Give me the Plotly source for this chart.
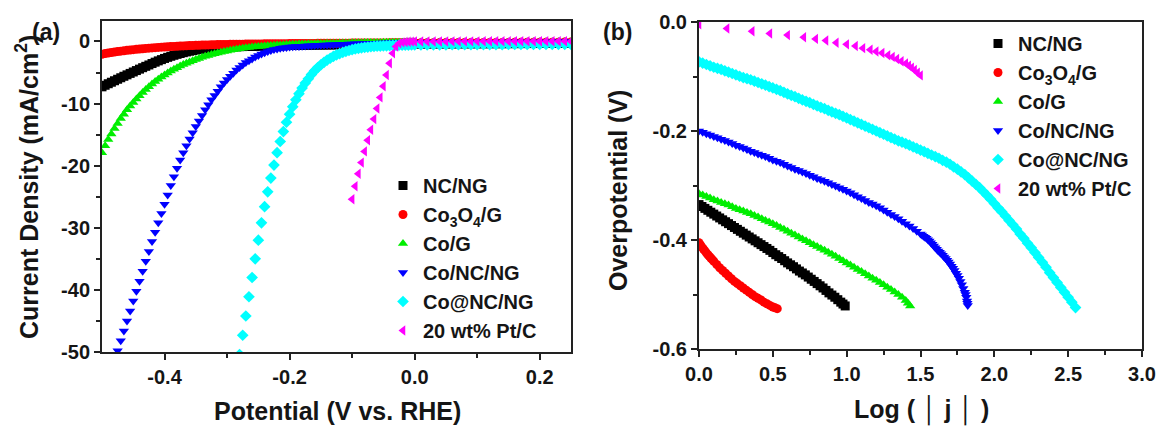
import plotly.graph_objects as go

# ---------------- Panel (a): LSV curves ----------------
# Potential grid (V vs. RHE)
E_A = [0.25, 0.24, 0.23, 0.22, 0.21, 0.20, 0.19, 0.18, 0.17, 0.16, 0.15, 0.14, 0.13,
       0.12, 0.11, 0.10, 0.09, 0.08, 0.07, 0.06, 0.05, 0.04, 0.03, 0.02, 0.01, 0.00,
       -0.005, -0.010, -0.015, -0.020, -0.025, -0.030, -0.035, -0.040, -0.045, -0.050,
       -0.055, -0.060, -0.065, -0.070, -0.075, -0.080, -0.085, -0.090, -0.095, -0.100,
       -0.105, -0.110, -0.115, -0.120, -0.125, -0.130, -0.135, -0.140, -0.145, -0.150,
       -0.155, -0.160, -0.165, -0.170, -0.175, -0.180, -0.185, -0.190, -0.195, -0.200,
       -0.205, -0.210, -0.215, -0.220, -0.225, -0.230, -0.235, -0.240, -0.245, -0.250,
       -0.255, -0.260, -0.265, -0.270, -0.275, -0.280, -0.285, -0.290, -0.295, -0.300,
       -0.305, -0.310, -0.315, -0.320, -0.325, -0.330, -0.335, -0.340, -0.345, -0.350,
       -0.355, -0.360, -0.365, -0.370, -0.375, -0.380, -0.385, -0.390, -0.395, -0.400,
       -0.405, -0.410, -0.415, -0.420, -0.425, -0.430, -0.435, -0.440, -0.445, -0.450,
       -0.455, -0.460, -0.465, -0.470, -0.475, -0.480, -0.485, -0.490, -0.495, -0.500]

# Current density (mA/cm2), aligned with E_A from the start
J_NCNG = [-0.30, -0.30, -0.31, -0.31, -0.32, -0.32, -0.33, -0.33, -0.34, -0.34, -0.35, -0.35, -0.36,
          -0.36, -0.37, -0.37, -0.37, -0.38, -0.38, -0.38, -0.39, -0.39, -0.39, -0.40, -0.40, -0.40,
          -0.40, -0.41, -0.41, -0.42, -0.42, -0.43, -0.43, -0.44, -0.44, -0.45,
          -0.45, -0.46, -0.46, -0.47, -0.47, -0.48, -0.48, -0.49, -0.49, -0.50,
          -0.51, -0.51, -0.52, -0.52, -0.53, -0.54, -0.54, -0.55, -0.56, -0.56,
          -0.57, -0.58, -0.59, -0.59, -0.60, -0.61, -0.62, -0.63, -0.64, -0.65,
          -0.66, -0.67, -0.68, -0.69, -0.70, -0.71, -0.72, -0.73, -0.74, -0.75,
          -0.77, -0.78, -0.79, -0.80, -0.82, -0.83, -0.85, -0.87, -0.89, -0.91,
          -0.94, -0.97, -1.00, -1.04, -1.08, -1.12, -1.17, -1.23, -1.30, -1.38,
          -1.47, -1.57, -1.68, -1.80, -1.93, -2.07, -2.22, -2.38, -2.55, -2.73,
          -2.92, -3.12, -3.33, -3.55, -3.78, -4.00, -4.22, -4.45, -4.68, -4.91,
          -5.14, -5.37, -5.60, -5.84, -6.08, -6.32, -6.56, -6.80, -7.05, -7.30]

J_CO3O4 = [-0.10, -0.10, -0.11, -0.11, -0.12, -0.12, -0.13, -0.13, -0.14, -0.14, -0.15, -0.15, -0.15,
           -0.16, -0.16, -0.16, -0.17, -0.17, -0.17, -0.18, -0.18, -0.18, -0.19, -0.19, -0.19, -0.20,
           -0.20, -0.20, -0.21, -0.21, -0.21, -0.22, -0.22, -0.22, -0.23, -0.23,
           -0.23, -0.24, -0.24, -0.24, -0.25, -0.25, -0.25, -0.26, -0.26, -0.26,
           -0.27, -0.27, -0.27, -0.28, -0.28, -0.28, -0.29, -0.29, -0.29, -0.30,
           -0.30, -0.31, -0.31, -0.31, -0.32, -0.32, -0.33, -0.33, -0.34, -0.34,
           -0.35, -0.35, -0.36, -0.36, -0.37, -0.37, -0.38, -0.38, -0.39, -0.39,
           -0.40, -0.41, -0.41, -0.42, -0.43, -0.43, -0.44, -0.45, -0.46, -0.47,
           -0.48, -0.49, -0.50, -0.52, -0.53, -0.55, -0.56, -0.58, -0.60, -0.62,
           -0.64, -0.66, -0.68, -0.71, -0.73, -0.76, -0.79, -0.82, -0.85, -0.88,
           -0.91, -0.95, -0.99, -1.03, -1.07, -1.11, -1.16, -1.21, -1.26, -1.31,
           -1.37, -1.43, -1.49, -1.56, -1.63, -1.70, -1.78, -1.86, -1.95, -2.05]

J_COG = [-0.05, -0.05, -0.05, -0.06, -0.06, -0.06, -0.06, -0.07, -0.07, -0.07, -0.07, -0.07, -0.08,
         -0.08, -0.08, -0.08, -0.08, -0.09, -0.09, -0.09, -0.09, -0.09, -0.10, -0.10, -0.10, -0.10,
         -0.10, -0.10, -0.11, -0.11, -0.12, -0.12, -0.13, -0.13, -0.14, -0.14,
         -0.15, -0.16, -0.16, -0.17, -0.18, -0.18, -0.19, -0.20, -0.21, -0.22,
         -0.23, -0.24, -0.25, -0.26, -0.27, -0.28, -0.29, -0.30, -0.31, -0.32,
         -0.34, -0.35, -0.36, -0.38, -0.39, -0.41, -0.42, -0.44, -0.46, -0.48,
         -0.50, -0.53, -0.55, -0.58, -0.61, -0.64, -0.68, -0.72, -0.76, -0.80,
         -0.85, -0.90, -0.96, -1.02, -1.09, -1.16, -1.24, -1.33, -1.42, -1.52,
         -1.62, -1.73, -1.85, -1.97, -2.10, -2.24, -2.39, -2.55, -2.72, -2.90,
         -3.09, -3.29, -3.50, -3.72, -3.96, -4.21, -4.48, -4.76, -5.06, -5.38,
         -5.72, -6.08, -6.46, -6.86, -7.29, -7.74, -8.22, -8.72, -9.25, -9.81,
         -10.4, -11.0, -11.7, -12.4, -13.2, -14.0, -14.9, -15.8, -16.8, -17.9]

J_CONCNG = [-0.05, -0.05, -0.06, -0.06, -0.07, -0.07, -0.08, -0.08, -0.09, -0.09, -0.10, -0.10, -0.11,
            -0.11, -0.11, -0.12, -0.12, -0.12, -0.13, -0.13, -0.13, -0.14, -0.14, -0.14, -0.15, -0.15,
            -0.16, -0.17, -0.17, -0.18, -0.19, -0.20, -0.21, -0.22, -0.23, -0.24,
            -0.26, -0.27, -0.29, -0.30, -0.31, -0.33, -0.35, -0.37, -0.38, -0.40,
            -0.42, -0.44, -0.46, -0.47, -0.49, -0.51, -0.53, -0.55, -0.58, -0.60,
            -0.62, -0.65, -0.68, -0.70, -0.73, -0.76, -0.79, -0.82, -0.86, -0.90,
            -0.95, -1.00, -1.10, -1.20, -1.30, -1.45, -1.60, -1.80, -2.00, -2.25,
            -2.50, -2.80, -3.10, -3.40, -3.80, -4.20, -4.60, -5.10, -5.60, -6.10,
            -6.70, -7.30, -8.00, -8.70, -9.40, -10.2, -11.0, -11.9, -12.8, -13.7,
            -14.7, -15.7, -16.8, -17.9, -19.1, -20.4, -21.8, -23.2, -24.7, -26.2,
            -27.7, -29.2, -30.7, -32.2, -33.8, -35.4, -37.0, -38.6, -40.2, -41.8,
            -43.4, -45.0, -46.6, -48.2, -49.8, -51.4]

J_COATNCNG = [-0.45, -0.45, -0.46, -0.46, -0.46, -0.47, -0.47, -0.47, -0.48, -0.48, -0.48, -0.49, -0.49,
              -0.50, -0.50, -0.50, -0.51, -0.51, -0.52, -0.52, -0.53, -0.53, -0.54, -0.54, -0.55, -0.55,
              -0.56, -0.57, -0.58, -0.59, -0.60, -0.62, -0.64, -0.66, -0.69, -0.72,
              -0.74, -0.76, -0.80, -0.85, -0.90, -0.95, -1.02, -1.10, -1.20, -1.32,
              -1.45, -1.60, -1.76, -1.95, -2.15, -2.40, -2.70, -3.00, -3.35, -3.75,
              -4.20, -4.70, -5.30, -6.00, -6.70, -7.50, -8.40, -9.40, -10.5, -11.7,
              -13.0, -14.5, -16.1, -17.9, -19.9, -22.0, -24.2, -26.6, -29.2, -32.0,
              -35.0, -38.0, -41.1, -44.2, -47.3, -50.4, -53.5]

J_PTC = [0.05, 0.05, 0.05, 0.05, 0.05, 0.04, 0.04, 0.04, 0.04, 0.04, 0.03, 0.03, 0.03,
         0.03, 0.03, 0.02, 0.02, 0.02, 0.02, 0.02, 0.01, 0.01, 0.01, 0.00, 0.00, 0.00,
         -0.02, -0.04, -0.07, -0.14, -0.30, -0.80, -1.9, -3.5, -5.4, -7.2,
         -9.0, -10.8, -12.5, -14.2, -15.9, -17.7, -19.5, -21.3, -23.3, -25.4]

# ---------------- Panel (b): Tafel plots ----------------
LOGJ_NCNG = [0.00, 0.02, 0.04, 0.06, 0.08, 0.10, 0.12, 0.14, 0.16, 0.18, 0.20, 0.22, 0.24,
             0.26, 0.28, 0.30, 0.32, 0.34, 0.36, 0.38, 0.40, 0.42, 0.44, 0.46, 0.48, 0.50,
             0.52, 0.54, 0.56, 0.58, 0.60, 0.62, 0.64, 0.66, 0.68, 0.70, 0.72, 0.74, 0.76,
             0.78, 0.80, 0.82, 0.84, 0.86, 0.88, 0.90, 0.92, 0.94, 0.96, 0.975, 0.99]
ETA_NCNG = [-0.335, -0.3385, -0.342, -0.3455, -0.349, -0.3525, -0.356, -0.3595, -0.363, -0.3665,
            -0.370, -0.3735, -0.377, -0.3805, -0.384, -0.3875, -0.391, -0.3945, -0.398, -0.4015,
            -0.405, -0.4085, -0.412, -0.4155, -0.419, -0.423, -0.427, -0.4305, -0.434, -0.438,
            -0.442, -0.4455, -0.449, -0.453, -0.457, -0.4605, -0.464, -0.468, -0.472, -0.476,
            -0.480, -0.484, -0.488, -0.4925, -0.497, -0.501, -0.505, -0.5095, -0.514, -0.5175,
            -0.521]

LOGJ_CO3O4 = [0.00, 0.01, 0.02, 0.03, 0.04, 0.05, 0.06, 0.07, 0.08, 0.09, 0.10, 0.12, 0.14,
              0.16, 0.18, 0.20, 0.22, 0.24, 0.26, 0.28, 0.30, 0.32, 0.34, 0.36, 0.38, 0.40,
              0.42, 0.44, 0.46, 0.48, 0.50, 0.515, 0.53]
ETA_CO3O4 = [-0.405, -0.409, -0.413, -0.4165, -0.420, -0.4235, -0.427, -0.430, -0.433, -0.436,
             -0.439, -0.445, -0.451, -0.456, -0.461, -0.466, -0.471, -0.476, -0.480, -0.484,
             -0.488, -0.492, -0.496, -0.500, -0.504, -0.507, -0.510, -0.514, -0.517, -0.520,
             -0.523, -0.5245, -0.526]

LOGJ_COG = [0.000, 0.025, 0.050, 0.075, 0.100, 0.125, 0.150, 0.175, 0.200, 0.225, 0.250, 0.275,
            0.300, 0.325, 0.350, 0.375, 0.400, 0.425, 0.450, 0.475, 0.500, 0.525, 0.550, 0.575,
            0.600, 0.625, 0.650, 0.675, 0.700, 0.725, 0.750, 0.775, 0.800, 0.825, 0.850, 0.875,
            0.900, 0.925, 0.950, 0.975, 1.000, 1.025, 1.050, 1.075, 1.100, 1.125, 1.150, 1.175,
            1.200, 1.225, 1.250, 1.275, 1.300, 1.325, 1.350, 1.375, 1.400, 1.415, 1.430]
ETA_COG = [-0.315, -0.3175, -0.320, -0.323, -0.326, -0.3285, -0.331, -0.3335, -0.336, -0.339,
           -0.342, -0.3445, -0.347, -0.3495, -0.352, -0.355, -0.358, -0.361, -0.364, -0.367,
           -0.370, -0.3735, -0.377, -0.3805, -0.384, -0.3875, -0.391, -0.3945, -0.398, -0.4015,
           -0.405, -0.4085, -0.412, -0.4155, -0.419, -0.4225, -0.426, -0.430, -0.434, -0.438,
           -0.442, -0.446, -0.450, -0.454, -0.458, -0.462, -0.466, -0.470, -0.474, -0.478,
           -0.482, -0.4865, -0.491, -0.4955, -0.500, -0.505, -0.511, -0.516, -0.521]

LOGJ_CONCNG = [0.000, 0.025, 0.050, 0.075, 0.100, 0.125, 0.150, 0.175, 0.200, 0.225, 0.250, 0.275,
               0.300, 0.325, 0.350, 0.375, 0.400, 0.425, 0.450, 0.475, 0.500, 0.525, 0.550, 0.575,
               0.600, 0.625, 0.650, 0.675, 0.700, 0.725, 0.750, 0.775, 0.800, 0.825, 0.850, 0.875,
               0.900, 0.925, 0.950, 0.975, 1.000, 1.025, 1.050, 1.075, 1.100, 1.125, 1.150, 1.175,
               1.200, 1.225, 1.250, 1.275, 1.300, 1.325, 1.350, 1.375, 1.400, 1.425, 1.450, 1.475,
               1.50, 1.51, 1.52, 1.53, 1.54, 1.55, 1.56, 1.57, 1.58, 1.59, 1.60, 1.61, 1.62, 1.63,
               1.64, 1.65, 1.66, 1.67, 1.68, 1.69, 1.70, 1.71, 1.72, 1.73, 1.74, 1.75, 1.76, 1.77,
               1.78, 1.79, 1.80, 1.805, 1.81, 1.815, 1.8175, 1.82]
ETA_CONCNG = [-0.200, -0.2025, -0.205, -0.2075, -0.210, -0.2125, -0.215, -0.2175, -0.220, -0.223,
              -0.226, -0.2285, -0.231, -0.234, -0.237, -0.2395, -0.242, -0.2445, -0.247, -0.250,
              -0.253, -0.2555, -0.258, -0.261, -0.264, -0.267, -0.270, -0.2725, -0.275, -0.278,
              -0.281, -0.284, -0.287, -0.2895, -0.292, -0.295, -0.298, -0.301, -0.304, -0.307,
              -0.310, -0.3135, -0.317, -0.3205, -0.324, -0.3275, -0.331, -0.334, -0.337, -0.341,
              -0.345, -0.349, -0.353, -0.357, -0.361, -0.3655, -0.370, -0.3745, -0.379, -0.384,
              -0.389, -0.391, -0.393, -0.395, -0.397, -0.3995, -0.402, -0.405, -0.408, -0.411,
              -0.414, -0.417, -0.420, -0.4225, -0.425, -0.428, -0.431, -0.434, -0.437, -0.4405,
              -0.444, -0.448, -0.452, -0.456, -0.461, -0.465, -0.470, -0.476, -0.482, -0.489,
              -0.496, -0.500, -0.505, -0.512, -0.516, -0.520]

LOGJ_COATNCNG = [0.000, 0.025, 0.050, 0.075, 0.100, 0.125, 0.150, 0.175, 0.200, 0.225, 0.250,
                 0.275, 0.300, 0.325, 0.350, 0.375, 0.400, 0.425, 0.450, 0.475, 0.500, 0.525,
                 0.550, 0.575, 0.600, 0.625, 0.650, 0.675, 0.700, 0.725, 0.750, 0.775, 0.800,
                 0.825, 0.850, 0.875, 0.900, 0.925, 0.950, 0.975, 1.000, 1.025, 1.050, 1.075,
                 1.100, 1.125, 1.150, 1.175, 1.200, 1.225, 1.250, 1.275, 1.300, 1.325, 1.350,
                 1.375, 1.400, 1.425, 1.450, 1.475, 1.50, 1.525, 1.55, 1.575, 1.60, 1.625, 1.65,
                 1.675, 1.70, 1.725, 1.75, 1.775, 1.80, 1.825, 1.85, 1.875, 1.90, 1.925, 1.95,
                 1.975, 2.00, 2.025, 2.05, 2.075, 2.10, 2.125, 2.15, 2.175, 2.20, 2.225, 2.25,
                 2.275, 2.30, 2.325, 2.35, 2.375, 2.40, 2.425, 2.45, 2.475, 2.50, 2.525, 2.55]
ETA_COATNCNG = [-0.073, -0.0755, -0.078, -0.0805, -0.083, -0.085, -0.087, -0.0895, -0.092, -0.0945,
                -0.097, -0.0995, -0.102, -0.104, -0.106, -0.1085, -0.111, -0.1135, -0.116, -0.1185,
                -0.121, -0.1235, -0.126, -0.129, -0.132, -0.1345, -0.137, -0.140, -0.143, -0.1455,
                -0.148, -0.151, -0.154, -0.1565, -0.159, -0.162, -0.165, -0.1675, -0.170, -0.173,
                -0.176, -0.179, -0.182, -0.185, -0.188, -0.191, -0.194, -0.197, -0.200, -0.203,
                -0.206, -0.209, -0.212, -0.215, -0.218, -0.2205, -0.223, -0.226, -0.229, -0.232,
                -0.235, -0.238, -0.241, -0.244, -0.247, -0.250, -0.254, -0.257, -0.261, -0.266,
                -0.270, -0.275, -0.280, -0.286, -0.292, -0.298, -0.304, -0.311, -0.318, -0.325,
                -0.333, -0.341, -0.348, -0.356, -0.364, -0.372, -0.380, -0.389, -0.397, -0.406,
                -0.414, -0.423, -0.432, -0.441, -0.450, -0.460, -0.469, -0.478, -0.487, -0.496,
                -0.505, -0.514, -0.524]

LOGJ_PTC = [0.00, 0.19, 0.36, 0.48, 0.60, 0.71, 0.79, 0.86, 0.93, 1.00, 1.06, 1.11, 1.16,
            1.20, 1.24, 1.28, 1.31, 1.34, 1.37, 1.40, 1.42, 1.44, 1.46, 1.48, 1.50]
ETA_PTC = [-0.004, -0.012, -0.017, -0.021, -0.024, -0.028, -0.031, -0.034, -0.038, -0.041,
           -0.044, -0.048, -0.051, -0.054, -0.057, -0.061, -0.064, -0.068, -0.072, -0.076,
           -0.080, -0.084, -0.088, -0.093, -0.098]

NAMES = ["NC/NG", "Co<sub>3</sub>O<sub>4</sub>/G", "Co/G", "Co/NC/NG", "Co@NC/NG", "20 wt% Pt/C"]
COLORS = ["#000000", "#ff0000", "#00ee00", "#0000ff", "#00ffff", "#ff00ff"]
SYMBOLS = ["square", "circle", "triangle-up", "triangle-down", "diamond", "triangle-left"]

A_J = [J_NCNG, J_CO3O4, J_COG, J_CONCNG, J_COATNCNG, J_PTC]
B_X = [LOGJ_NCNG, LOGJ_CO3O4, LOGJ_COG, LOGJ_CONCNG, LOGJ_COATNCNG, LOGJ_PTC]
B_Y = [ETA_NCNG, ETA_CO3O4, ETA_COG, ETA_CONCNG, ETA_COATNCNG, ETA_PTC]

W, H = 1158, 427
FONT = "Liberation Sans, Arial, sans-serif"
TXT = "#151515"

fig = go.Figure()
for i in range(6):
    fig.add_trace(go.Scatter(
        x=E_A[:len(A_J[i])], y=A_J[i], mode="markers", name=NAMES[i],
        marker=dict(symbol=SYMBOLS[i], color=COLORS[i], size=9, line=dict(width=0)),
        xaxis="x", yaxis="y", legend="legend"))
for i in range(6):
    fig.add_trace(go.Scatter(
        x=B_X[i], y=B_Y[i], mode="markers", name=NAMES[i],
        marker=dict(symbol=SYMBOLS[i], color=COLORS[i], size=9, line=dict(width=0)),
        xaxis="x2", yaxis="y2", legend="legend2"))


def px(v):
    return v / W


def py(v):
    return 1 - v / H


axis_common = dict(showline=True, mirror=True, linewidth=2, linecolor="#222222",
                   showgrid=False, zeroline=False, ticks="outside", ticklen=6, tickwidth=2,
                   tickcolor="#222222", automargin=False,
                   tickfont=dict(family=FONT, size=20, color=TXT, weight="bold"))
minor_common = dict(tickmode="array", ticks="outside", ticklen=4, tickwidth=2,
                    tickcolor="#222222")

fig.update_layout(
    width=W, height=H, margin=dict(l=0, r=0, t=0, b=0, autoexpand=False),
    paper_bgcolor="white", plot_bgcolor="white",
    xaxis=dict(domain=[px(102), px(571)], range=[-0.5, 0.25], anchor="y",
               tickmode="array", tickvals=[-0.4, -0.2, 0.0, 0.2],
               ticktext=["-0.4", "-0.2", "0.0", "0.2"],
               minor=dict(tickvals=[-0.3, -0.1, 0.1], **minor_common),
               **axis_common),
    yaxis=dict(domain=[py(352), py(21)], range=[-50, 3.3], anchor="x",
               tickmode="array", tickvals=[0, -10, -20, -30, -40, -50],
               ticktext=["0", "-10", "-20", "-30", "-40", "-50"],
               minor=dict(tickvals=[-5, -15, -25, -35, -45], **minor_common),
               **axis_common),
    xaxis2=dict(domain=[px(699), px(1142)], range=[0, 3], anchor="y2",
                tickmode="array", tickvals=[0, 0.5, 1.0, 1.5, 2.0, 2.5, 3.0],
                ticktext=["0.0", "0.5", "1.0", "1.5", "2.0", "2.5", "3.0"],
                minor=dict(tickvals=[0.25, 0.75, 1.25, 1.75, 2.25, 2.75], **minor_common),
                **axis_common),
    yaxis2=dict(domain=[py(349), py(22)], range=[-0.6, 0], anchor="x2",
                tickmode="array", tickvals=[0, -0.2, -0.4, -0.6],
                ticktext=["0.0", "-0.2", "-0.4", "-0.6"],
                minor=dict(tickvals=[-0.1, -0.3, -0.5], **minor_common),
                **axis_common),
    legend=dict(x=px(383), y=py(166), xanchor="left", yanchor="top",
                bgcolor="rgba(0,0,0,0)", font=dict(family=FONT, size=20, color=TXT, weight="bold"),
                itemwidth=30, tracegroupgap=0),
    legend2=dict(x=px(978), y=py(24), xanchor="left", yanchor="top",
                 bgcolor="rgba(0,0,0,0)", font=dict(family=FONT, size=20, color=TXT, weight="bold"),
                 itemwidth=30, tracegroupgap=0),
    showlegend=True,
)

ann_font = dict(family=FONT, size=25, color=TXT, weight="bold")
annotations = [
    dict(text="(a)", x=px(46), y=py(32), font=dict(family=FONT, size=23, color=TXT, weight="bold")),
    dict(text="(b)", x=px(617), y=py(32), font=dict(family=FONT, size=23, color=TXT, weight="bold")),
    dict(text="Potential (V vs. RHE)", x=px(337), y=py(411)),
    dict(text="Log ( │ j │ )", x=px(921), y=py(410)),
    dict(text="Current Density (mA/cm<sup>2</sup>)", x=px(27), y=py(187), textangle=-90),
    dict(text="Overpotential (V)", x=px(618), y=py(191), textangle=-90),
]
for a in annotations:
    a.setdefault("font", ann_font)
    a.update(xref="paper", yref="paper", showarrow=False,
             xanchor="center", yanchor="middle")
fig.update_layout(annotations=annotations)

fig.write_html("out.html", config={"displayModeBar": False},
               post_script="document.body.style.margin='0px';document.body.style.padding='0px';")
